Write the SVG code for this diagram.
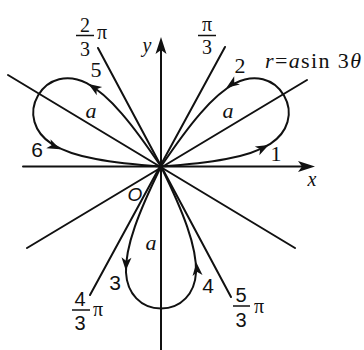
<svg xmlns="http://www.w3.org/2000/svg" width="364" height="350" viewBox="0 0 364 350">
<style>
.ln{stroke:#111;stroke-width:2;fill:none;stroke-linecap:round}
.pt{stroke:#111;stroke-width:2;fill:none}
.ah{fill:#111;stroke:none}
.sr{font-family:"Liberation Serif",serif;font-size:22px;fill:#111}
.ss{font-family:"Liberation Sans",sans-serif;font-size:21px;fill:#111}
.fr{font-family:"Liberation Serif",serif;font-size:20px;fill:#111}
.it{font-style:italic}
.bar{stroke:#111;stroke-width:1.5}
</style>
<defs>
<path id="petal" d="M0,0 C45,22 80,36 106,35 C127,34 142,20 142,0 C142,-20 127,-34 106,-35 C80,-36 45,-22 0,0 Z"/>
<path id="head" d="M0,0 L-13,-5 L-9.5,0 L-13,5 Z"/>
</defs>
<g id="connectors">
<line class="ln" x1="27" y1="248" x2="307" y2="80"/>
<line class="ln" x1="8" y1="75" x2="295" y2="248"/>
<line class="ln" x1="90" y1="295" x2="225" y2="47"/>
<line class="ln" x1="98" y1="48" x2="231" y2="297"/>
<line class="ln" x1="23" y1="166.5" x2="303" y2="166.5"/>
<path class="ah" d="M315,166.5 L298,161 L302,166.5 L298,172 Z"/>
<line class="ln" x1="161" y1="350" x2="161" y2="48"/>
<path class="ah" d="M161,37 L155.5,54 L161,50 L166.5,54 Z"/>
</g>
<g id="petal-right" transform="translate(161,166.5) rotate(-30)">
<use href="#petal" class="pt"/>
<use href="#head" class="ah" transform="translate(104,35.2) rotate(3)"/>
<use href="#head" class="ah" transform="translate(96,-35.4) rotate(175)"/>
</g>
<g id="petal-left" transform="translate(161,166.5) rotate(-150)">
<use href="#petal" class="pt"/>
<use href="#head" class="ah" transform="translate(104,35.2) rotate(3)"/>
<use href="#head" class="ah" transform="translate(96,-35.4) rotate(175)"/>
</g>
<g id="petal-bottom" transform="translate(161,166.5) rotate(90)">
<use href="#petal" class="pt"/>
<use href="#head" class="ah" transform="translate(104,35.2) rotate(3)"/>
<use href="#head" class="ah" transform="translate(96,-35.4) rotate(175)"/>
</g>
<g id="labels">
<text class="sr it" x="312" y="186" text-anchor="middle" style="font-size:20px">x</text>
<text class="sr it" x="147" y="52" text-anchor="middle" style="font-size:20px">y</text>
<text class="ss it" x="135" y="201" text-anchor="middle" style="font-size:19px">O</text>
<text class="sr it" x="228" y="118" text-anchor="middle">a</text>
<text class="sr it" x="91" y="118" text-anchor="middle">a</text>
<text class="sr it" x="151" y="250" text-anchor="middle">a</text>
<text class="sr" x="276" y="161" text-anchor="middle">1</text>
<text class="sr" x="240" y="73" text-anchor="middle">2</text>
<text class="ss" x="115" y="290" text-anchor="middle">3</text>
<text class="ss" x="208" y="293" text-anchor="middle">4</text>
<text class="sr" x="96" y="77" text-anchor="middle">5</text>
<text class="ss" x="37" y="157" text-anchor="middle">6</text>
<text class="sr" x="265" y="68" textLength="96" lengthAdjust="spacing"><tspan class="it">r</tspan>=<tspan class="it">a</tspan>sin 3<tspan class="it">θ</tspan></text>
</g>
<g id="frac-2-3pi">
<text class="fr" x="85" y="32" text-anchor="middle">2</text>
<line class="bar" x1="76" y1="35.5" x2="94" y2="35.5"/>
<text class="fr" x="85" y="56" text-anchor="middle">3</text>
<text class="fr" x="97" y="39">π</text>
</g>
<g id="frac-pi-3">
<text class="fr" x="207" y="31" text-anchor="middle">π</text>
<line class="bar" x1="198" y1="35.5" x2="216" y2="35.5"/>
<text class="fr" x="207" y="54" text-anchor="middle">3</text>
</g>
<g id="frac-4-3pi">
<text class="ss" x="80" y="306" text-anchor="middle" style="font-size:20px">4</text>
<line class="bar" x1="72" y1="310" x2="90" y2="310"/>
<text class="ss" x="80" y="330" text-anchor="middle" style="font-size:20px">3</text>
<text class="fr" x="93" y="316">π</text>
</g>
<g id="frac-5-3pi">
<text class="ss" x="241" y="302" text-anchor="middle" style="font-size:20px">5</text>
<line class="bar" x1="233" y1="306" x2="250" y2="306"/>
<text class="ss" x="241" y="327" text-anchor="middle" style="font-size:20px">3</text>
<text class="fr" x="254" y="313">π</text>
</g>
</svg>
